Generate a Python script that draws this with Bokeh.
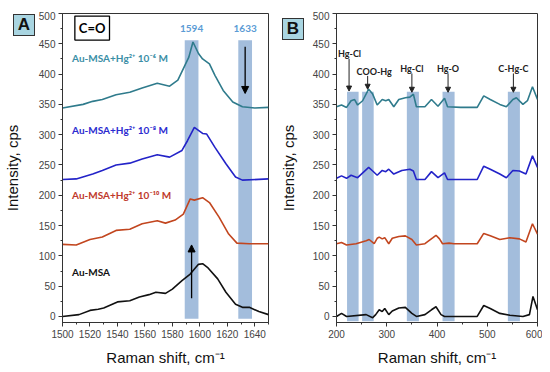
from bokeh.plotting import figure
from bokeh.layouts import row, column
from bokeh.models import Label, Arrow, NormalHead, Range1d, FixedTicker, Div
from bokeh.embed import file_html
from bokeh.resources import INLINE

# ---------------- Panel A data (C=O region) ----------------
a_msa_x = [1500, 1512, 1520, 1526, 1530, 1540, 1549, 1556, 1563, 1568, 1575, 1580, 1587, 1593, 1599, 1602, 1606, 1613, 1619, 1626, 1631, 1636, 1643, 1650]
a_msa_y = [0, 3, 10, 12, 14, 24, 26, 32, 36, 40, 38, 45, 59, 70, 86, 87, 80, 62, 40, 20, 15, 15, 8, 3]

a_hg10_x = [1500, 1510, 1520, 1529, 1539, 1549, 1558, 1569, 1575, 1582, 1588, 1593, 1596, 1602, 1607, 1614, 1621, 1627, 1636, 1650]
a_hg10_y = [119, 118, 127, 131, 142, 144, 153, 158, 154, 159, 169, 194, 192, 196, 188, 164, 136, 121, 120, 120]

a_hg8_x = [1500, 1510, 1522, 1529, 1539, 1549, 1558, 1569, 1578, 1587, 1591, 1596, 1599, 1602, 1605, 1611, 1619, 1626, 1631, 1650]
a_hg8_y = [226, 227, 235, 241, 250, 253, 260, 267, 263, 274, 290, 312, 307, 302, 301, 279, 252, 230, 225, 227]

a_hg6_x = [1500, 1515, 1522, 1529, 1539, 1549, 1558, 1569, 1578, 1584, 1588, 1592, 1595, 1599, 1602, 1607, 1611, 1617, 1624, 1631, 1640, 1650]
a_hg6_y = [344, 350, 355, 358, 366, 370, 377, 385, 380, 390, 409, 428, 453, 434, 425, 417, 398, 373, 354, 346, 344, 345]

a_bands = [1594, 1633]
a_band_labels = ["1594", "1633"]

# ---------------- Panel B data (low-frequency region) ----------------
b_x6 = [200, 210, 220, 229, 236, 242, 252, 264, 272, 281, 291, 298, 304, 314, 324, 337, 346, 353, 359, 376, 389, 402, 415, 421, 447, 480, 493, 506, 525, 538, 551, 558, 571, 580, 590, 600]
b_y6 = [346, 349, 345, 356, 358, 349, 356, 375, 367, 349, 358, 356, 358, 346, 358, 361, 362, 367, 346, 346, 358, 347, 360, 346, 345, 345, 364, 358, 350, 346, 358, 361, 350, 356, 379, 358]

b_x8 = [200, 210, 220, 229, 242, 264, 272, 281, 291, 298, 304, 314, 330, 346, 353, 359, 376, 389, 402, 415, 421, 480, 493, 506, 525, 538, 551, 564, 577, 590, 600]
b_y8 = [228, 232, 228, 233, 229, 246, 240, 233, 241, 239, 243, 235, 241, 243, 240, 226, 226, 239, 229, 237, 226, 226, 248, 243, 235, 229, 241, 240, 235, 265, 246]

b_x10 = [200, 210, 220, 239, 259, 265, 275, 281, 285, 291, 296, 304, 311, 324, 337, 350, 359, 376, 392, 398, 405, 411, 424, 434, 480, 493, 506, 525, 545, 564, 577, 590, 600]
b_y10 = [120, 122, 118, 120, 125, 127, 120, 129, 131, 128, 130, 120, 129, 132, 133, 127, 118, 120, 130, 134, 128, 120, 121, 120, 120, 137, 133, 127, 130, 128, 123, 153, 136]

b_x0 = [200, 210, 220, 259, 272, 278, 285, 291, 296, 304, 311, 324, 337, 350, 359, 376, 389, 398, 408, 415, 480, 493, 506, 525, 545, 571, 584, 591, 600]
b_y0 = [0, 5, 0, 3, -2, 3, 11, 8, 13, 3, 9, 14, 15, 5, 0, 3, 11, 16, 3, 0, 0, 18, 13, 5, 2, 0, 3, 33, 11]

b_band_left = [221, 251, 340, 411, 541]
b_band_right = [244, 274, 364, 435, 565]
b_labels = ["Hg-Cl", "COO-Hg", "Hg-Cl", "Hg-O", "C-Hg-C"]
b_label_x = [226, 275, 350, 422, 552]
b_label_y = [434, 405, 409, 409, 409]
b_arrow_x = [225, 262, 350, 422, 552]
b_arrow_top = [425, 397, 401, 401, 401]
b_arrow_bottom = [372, 375, 370, 370, 370]

C_BLACK = "#111111"
C_ORANGE = "#c2461f"
C_BLUE = "#2323c8"
C_TEAL = "#2f7b8c"
C_BAND = "#a3bddc"
FONT = "Liberation Sans"
LFONT = "Lato"


def style(p, xticks, ylab_standoff):
    p.xgrid.visible = False
    p.ygrid.visible = False
    p.outline_line_color = "#333333"
    p.outline_line_width = 1
    p.background_fill_color = "white"
    p.border_fill_color = "white"
    for ax in (p.xaxis[0], p.yaxis[0]):
        ax.axis_line_color = "#333333"
        ax.major_tick_line_color = "#333333"
        ax.minor_tick_line_color = "#333333"
        ax.major_tick_out = 4
        ax.major_tick_in = 0
        ax.minor_tick_out = 2
        ax.minor_tick_in = 0
        ax.major_label_text_font = FONT
        ax.major_label_text_font_size = "10px"
        ax.major_label_text_color = "#444444"
        ax.axis_label_text_font = FONT
        ax.axis_label_text_font_size = "15px"
        ax.axis_label_text_font_style = "normal"
        ax.axis_label_text_color = "#111111"
        ax.major_label_standoff = 3
    p.xaxis[0].ticker = FixedTicker(ticks=xticks[0], minor_ticks=xticks[1])
    p.yaxis[0].ticker = FixedTicker(ticks=list(range(0, 501, 50)), minor_ticks=list(range(0, 501, 25)))
    p.xaxis[0].axis_label = "Raman shift, cm\u207b\u00b9"
    p.yaxis[0].axis_label = "Intensity, cps"
    p.yaxis[0].axis_label_standoff = ylab_standoff
    p.xaxis[0].axis_label_standoff = 8


# ---------------- Figure A ----------------
pa = figure(width=276, height=357, output_backend="svg", toolbar_location=None,
            x_range=Range1d(1500, 1650), y_range=Range1d(-10, 500),
            min_border_left=59, min_border_right=8, min_border_top=2, min_border_bottom=46)
style(pa, (list(range(1500, 1641, 20)), list(range(1500, 1651, 10))), 15)

pa.quad(left=[b - 5 for b in a_bands], right=[b + 5 for b in a_bands],
        bottom=-4, top=456, fill_color=C_BAND, line_color=None)
pa.line(a_msa_x, a_msa_y, line_color=C_BLACK, line_width=1.6)
pa.line(a_hg10_x, a_hg10_y, line_color=C_ORANGE, line_width=1.6)
pa.line(a_hg8_x, a_hg8_y, line_color=C_BLUE, line_width=1.6)
pa.line(a_hg6_x, a_hg6_y, line_color=C_TEAL, line_width=1.6)

for bx, bl in zip(a_bands, a_band_labels):
    pa.add_layout(Label(x=bx, y=476, text=bl, text_font=LFONT, text_font_size="10px",
                        text_font_style="bold", text_color="#5b9bd5",
                        text_align="center", text_baseline="middle"))

pa.add_layout(Arrow(x_start=1633, y_start=445, x_end=1633, y_end=368, line_width=1.3,
                    line_color="black", end=NormalHead(size=7, fill_color="black", line_color="black")))
pa.add_layout(Arrow(x_start=1594, y_start=30, x_end=1594, y_end=118, line_width=1.3,
                    line_color="black", end=NormalHead(size=7, fill_color="black", line_color="black")))

pa.add_layout(Label(x=1509, y=476, text="C=O", text_font=LFONT, text_font_size="13px",
                    text_font_style="bold", text_color="black", text_baseline="middle",
                    background_fill_color="white", border_line_color="black",
                    border_line_width=1.3, padding=4))

for txt, ty, col in [("Au-MSA+Hg\u00b2\u207a 10\u207b\u2076 M", 427, "#3a8ea6"),
                     ("Au-MSA+Hg\u00b2\u207a 10\u207b\u2078 M", 307, "#2b2bd0"),
                     ("Au-MSA+Hg\u00b2\u207a 10\u207b\u00b9\u2070 M", 201, "#c0392b"),
                     ("Au-MSA", 73, "#111111")]:
    pa.add_layout(Label(x=1507, y=ty, text=txt, text_font=LFONT, text_font_size="10px",
                        text_font_style="bold", text_color=col, text_baseline="middle"))

# ---------------- Figure B ----------------
pb = figure(width=266, height=357, output_backend="svg", toolbar_location=None,
            x_range=Range1d(200, 600), y_range=Range1d(-10, 500),
            min_border_left=56, min_border_right=5, min_border_top=2, min_border_bottom=46)
style(pb, (list(range(200, 601, 100)), list(range(200, 601, 50))), 13)

pb.quad(left=b_band_left, right=b_band_right, bottom=-8, top=371,
        fill_color=C_BAND, line_color=None)
pb.line(b_x0, b_y0, line_color=C_BLACK, line_width=1.6)
pb.line(b_x10, b_y10, line_color=C_ORANGE, line_width=1.6)
pb.line(b_x8, b_y8, line_color=C_BLUE, line_width=1.6)
pb.line(b_x6, b_y6, line_color=C_TEAL, line_width=1.6)

for lx, ly, lt in zip(b_label_x, b_label_y, b_labels):
    pb.add_layout(Label(x=lx, y=ly, text=lt, text_font=LFONT, text_font_size="9px",
                        text_font_style="bold", text_color="#222222",
                        text_align="center", text_baseline="middle"))
for ax_, at, ab in zip(b_arrow_x, b_arrow_top, b_arrow_bottom):
    pb.add_layout(Arrow(x_start=ax_, y_start=at, x_end=ax_, y_end=ab, line_width=1,
                        line_color="#222222", end=NormalHead(size=5, fill_color="#222222", line_color="#222222")))

# Panel letters as an HTML overlay (outside the plot frames)
box = ("position:absolute;width:22px;height:22px;background:#a9d5e1;"
       "border:1.5px solid #333;font:bold 17px 'Liberation Sans',Arial,sans-serif;color:#111;"
       "display:flex;align-items:center;justify-content:center;z-index:50;")
letters = Div(text=(f'<div style="{box}left:8px;top:9px;">A</div>'
                    f'<div style="{box}left:277px;top:13px;">B</div>'),
              width=1, height=1, styles={"overflow": "visible", "z-index": "50"})

layout = column(letters, row(pa, pb), spacing=-1)
open("out.html", "w").write(file_html(layout, INLINE))
